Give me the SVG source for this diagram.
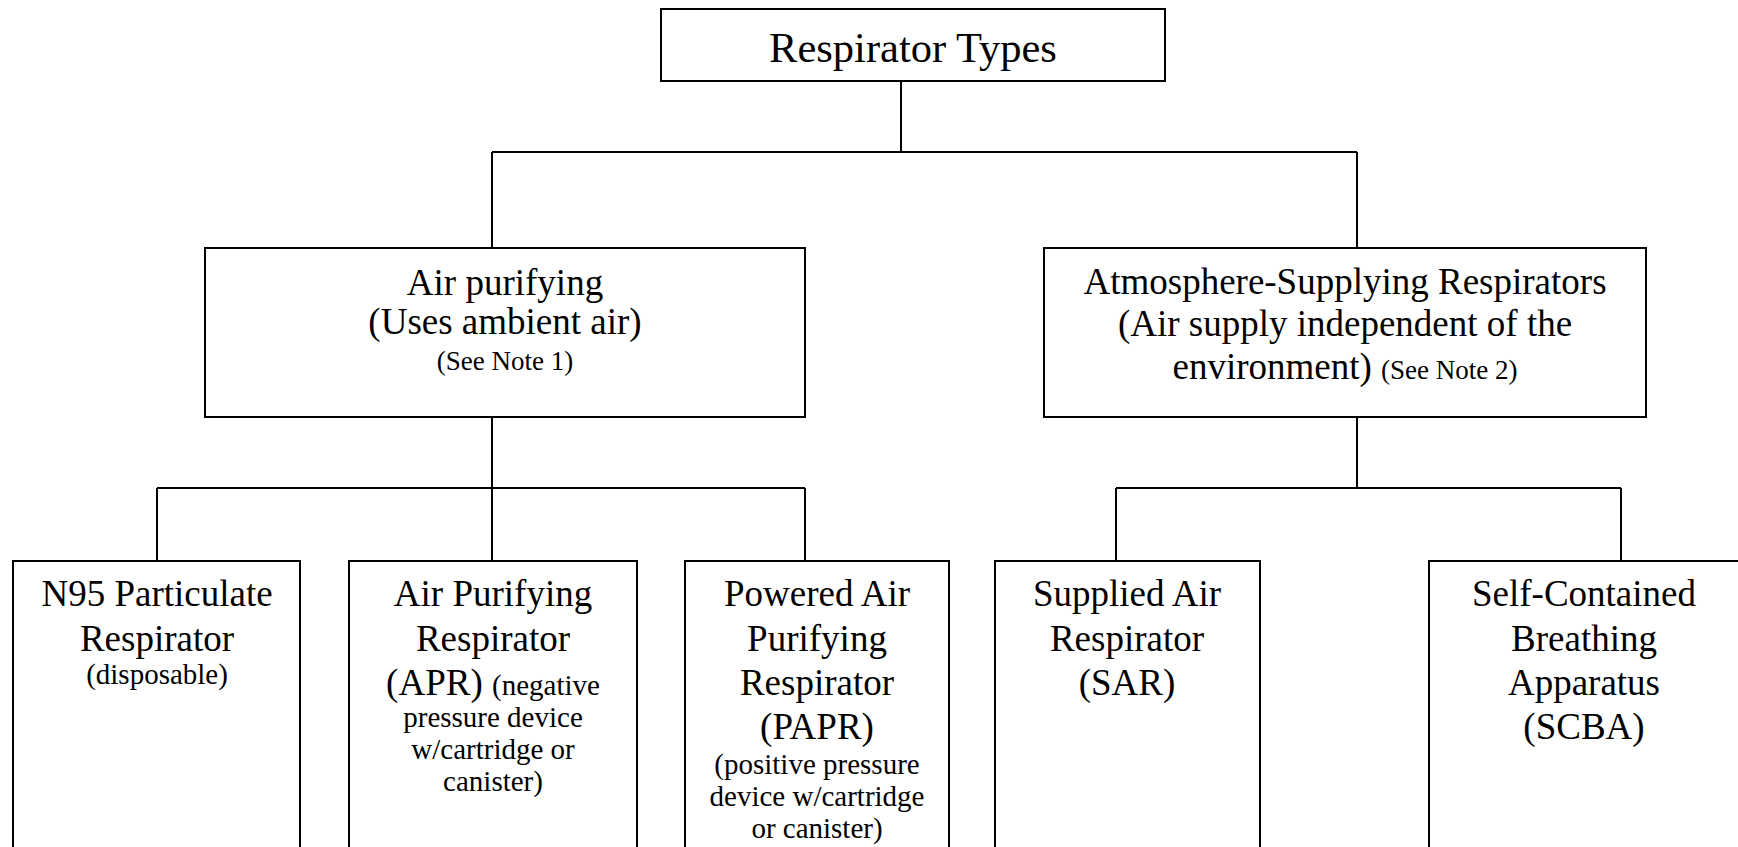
<svg xmlns="http://www.w3.org/2000/svg" width="1738" height="847" viewBox="0 0 1738 847">
<style>
.box{fill:#fff;stroke:#000;stroke-width:2}
.ln{fill:none;stroke:#000;stroke-width:2}
text{font-family:"Liberation Serif","Times New Roman",serif;fill:#000;text-anchor:middle}
.t{font-size:42.5px}
.m{font-size:37px}
.s{font-size:27px}
.b{font-size:37px}
.bs{font-size:29px}
</style>
<rect width="1738" height="847" fill="#fff"/>
<g id="connectors">
<path class="ln" d="M901 81V152M492 152H1357M492 152V248M1357 152V248"/>
<path class="ln" d="M492 417V488M157 488H805M157 488V561M492 488V561M805 488V561"/>
<path class="ln" d="M1357 417V488M1116 488H1621M1116 488V561M1621 488V561"/>
</g>
<g id="root">
<rect class="box" x="661" y="9" width="504" height="72"/>
<text class="t" x="913" y="62">Respirator Types</text>
</g>
<g id="air-purifying">
<rect class="box" x="205" y="248" width="600" height="169"/>
<text class="m" x="505" y="295">Air purifying</text>
<text class="m" x="505" y="334">(Uses ambient air)</text>
<text class="s" x="505" y="370">(See Note 1)</text>
</g>
<g id="atmosphere-supplying">
<rect class="box" x="1044" y="248" width="602" height="169"/>
<text class="m" x="1345" y="294">Atmosphere-Supplying Respirators</text>
<text class="m" x="1345" y="336">(Air supply independent of the</text>
<text class="m" x="1345" y="379">environment) <tspan class="s">(See Note 2)</tspan></text>
</g>
<g id="n95">
<rect class="box" x="13" y="561" width="287" height="300"/>
<text class="b" x="157" y="606">N95 Particulate</text>
<text class="b" x="157" y="651">Respirator</text>
<text class="bs" x="157" y="684">(disposable)</text>
</g>
<g id="apr">
<rect class="box" x="349" y="561" width="288" height="300"/>
<text class="b" x="493" y="606">Air Purifying</text>
<text class="b" x="493" y="651">Respirator</text>
<text class="b" x="493" y="695">(APR) <tspan class="bs">(negative</tspan></text>
<text class="bs" x="493" y="727">pressure device</text>
<text class="bs" x="493" y="759">w/cartridge or</text>
<text class="bs" x="493" y="791">canister)</text>
</g>
<g id="papr">
<rect class="box" x="685" y="561" width="264" height="300"/>
<text class="b" x="817" y="606">Powered Air</text>
<text class="b" x="817" y="651">Purifying</text>
<text class="b" x="817" y="695">Respirator</text>
<text class="b" x="817" y="739">(PAPR)</text>
<text class="bs" x="817" y="774">(positive pressure</text>
<text class="bs" x="817" y="806">device w/cartridge</text>
<text class="bs" x="817" y="838">or canister)</text>
</g>
<g id="sar">
<rect class="box" x="995" y="561" width="265" height="300"/>
<text class="b" x="1127" y="606">Supplied Air</text>
<text class="b" x="1127" y="651">Respirator</text>
<text class="b" x="1127" y="695">(SAR)</text>
</g>
<g id="scba">
<rect class="box" x="1429" y="561" width="320" height="300"/>
<text class="b" x="1584" y="606">Self-Contained</text>
<text class="b" x="1584" y="651">Breathing</text>
<text class="b" x="1584" y="695">Apparatus</text>
<text class="b" x="1584" y="739">(SCBA)</text>
</g>
</svg>
